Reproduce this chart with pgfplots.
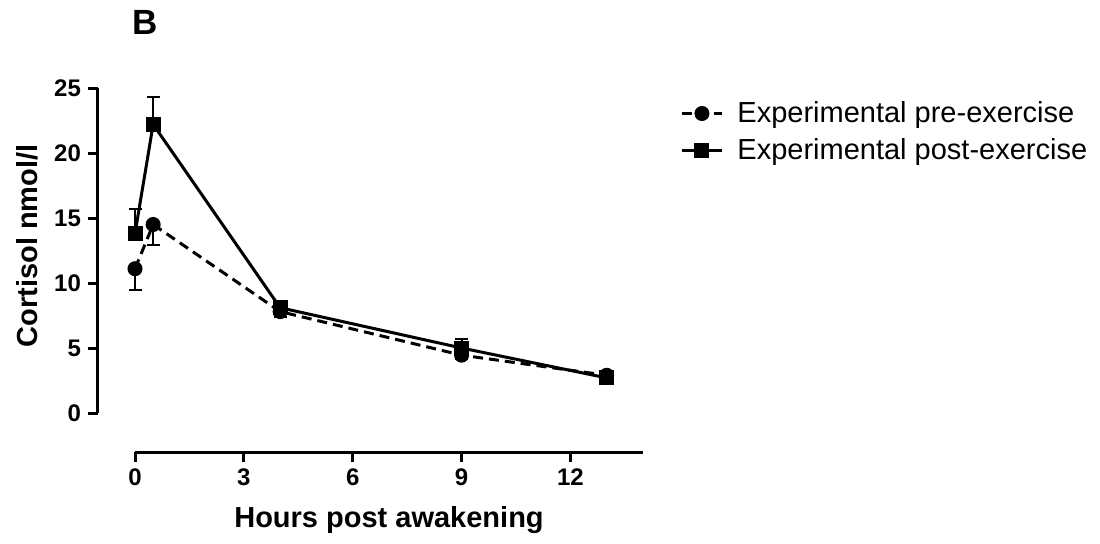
\documentclass[border=0pt]{standalone}
\usepackage{fontspec}
\setmainfont{Liberation Sans}
\usepackage{pgfplots}
\pgfplotsset{compat=1.18}
\begin{document}
\begin{tikzpicture}
\path[use as bounding box] (-49pt,-45.5pt) rectangle (501pt,226pt);
\begin{axis}[
  scale only axis,
  width=272.5pt, height=182pt,
  xmin=-1.02, xmax=14, ymin=-3, ymax=25,
  axis line style={draw=none},
  xtick={0,3,6,9,12}, ytick={0,5,10,15,20,25},
  xtick pos=lower, ytick pos=left,
  tick align=outside,
  major tick length=5pt,
  tick style={line width=1.5pt, black},
  ticklabel style={font=\fontsize{12}{14}\selectfont\bfseries},
  /pgf/number format/assume math mode=true,
  xlabel={Hours post awakening},
  ylabel={Cortisol nmol/l},
  label style={font=\fontsize{14.5}{17}\selectfont\bfseries},
  xlabel style={at={(axis description cs:0.534,-0.187)}, anchor=center},
  ylabel style={at={(axis description cs:-0.130,0.566)}, anchor=center},
  clip=false,
  legend cell align=left,
  legend style={draw=none, fill=none, at={(axis description cs:1.068,0.975)}, anchor=north west,
    inner sep=0pt, font=\fontsize{14.5}{17}\selectfont, row sep=2.5pt,
    /tikz/every odd column/.append style={column sep=5pt}},
  legend image code/.code={\draw[mark repeat=2,mark phase=2,#1] plot coordinates {(0pt,0pt) (10pt,0pt) (20pt,0pt)};},
]
\draw[line width=1.5pt] (axis cs:-1.02,0) -- (axis cs:-1.02,25);
\draw[line width=1.5pt] (axis cs:0,-3) -- (axis cs:14,-3);
\addplot[black, line width=1.5pt, dash pattern=on 5pt off 3pt, mark=*, mark size=3pt, mark options={solid},
  error bars/.cd, y dir=minus, y explicit, error bar style={line width=1pt, solid}, error mark options={rotate=90, mark size=3.25pt, line width=1pt}]
  coordinates {
  (0,11.1) -= (0,1.6)
  (0.5,14.5) -= (0,1.6)
  (4,7.8) -= (0,0.4)
  (9,4.45) -= (0,0.3)
  (13,2.9) -= (0,0.2)
};
\addlegendentry{Experimental pre-exercise}
\addplot[black, line width=1.5pt, mark=square*, mark size=3pt, mark options={solid},
  error bars/.cd, y dir=plus, y explicit, error bar style={line width=1pt, solid}, error mark options={rotate=90, mark size=3.25pt, line width=1pt}]
  coordinates {
  (0,13.8) += (0,1.9)
  (0.5,22.2) += (0,2.1)
  (4,8.1) += (0,0.5)
  (9,5.0) += (0,0.7)
  (13,2.7) += (0,0.2)
};
\addlegendentry{Experimental post-exercise}
\node[font=\fontsize{17.5}{20}\selectfont\bfseries] at (axis description cs:0.0862,1.181) {B};
\end{axis}
\end{tikzpicture}
\end{document}
